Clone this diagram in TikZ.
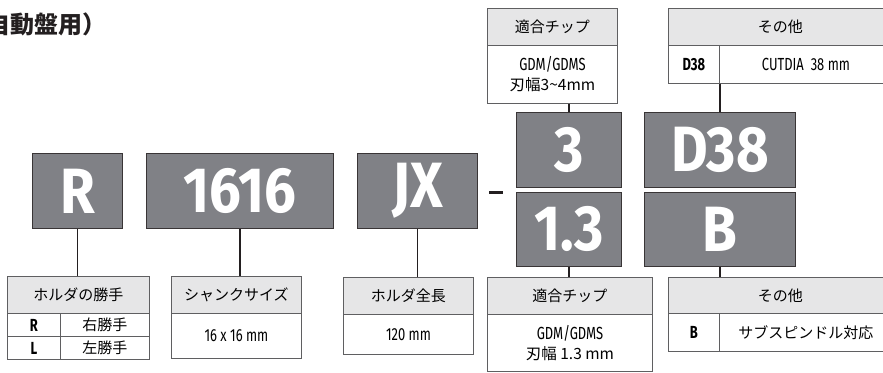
\documentclass[tikz,border=0pt]{standalone}
\usepackage{fontspec}
\newfontfamily\jpfont{Noto Sans CJK JP}
\newfontfamily\condfont[FakeStretch=0.74]{Fira Sans}
\newfontfamily\bigfont[FakeStretch=0.88]{Fira Sans}
\usetikzlibrary{positioning,calc}
\definecolor{codegray}{RGB}{128,129,134}
\definecolor{headgray}{RGB}{230,230,231}
\definecolor{framegray}{RGB}{95,95,97}
\definecolor{linkblack}{RGB}{35,31,32}

\tikzset{
  codebox/.style={draw=linkblack!90, fill=codegray, text=white, line width=0.9pt,
    inner sep=0pt, anchor=north west,
    font=\bigfont\bfseries\fontsize{64}{64}\selectfont},
  headcell/.style={draw=framegray, fill=headgray, line width=0.9pt, inner sep=0pt,
    anchor=north west, minimum height=37pt,
    font=\jpfont\fontsize{15}{18}\selectfont},
  bodycell/.style={draw=framegray, fill=white, line width=0.9pt, inner sep=0pt,
    anchor=north west, align=center,
    font=\condfont\fontsize{17.5}{22}\selectfont},
  keycell/.style={bodycell, font=\condfont\bfseries\fontsize{17.5}{22}\selectfont},
  link/.style={draw=linkblack, line width=1.4pt}
}

\begin{document}
\begin{tikzpicture}[x=1pt,y=-1pt]
  \useasboundingbox (0,0) rectangle (883,372);
  % Title (cut at the left edge)
  \node[anchor=base west, inner sep=0pt, text=linkblack,
        font=\jpfont\bfseries\fontsize{24}{24}\selectfont] (title) at (-14,33) {自動盤用）};

  % Code boxes
  \node[codebox, minimum width=90pt,  minimum height=75pt] (hand)  at (32,153)  {R};
  \node[codebox, minimum width=187pt, minimum height=75pt] (size)  at (146,153) {1616};
  \node[codebox, minimum width=120pt, minimum height=75pt] (len)   at (357,153) {JX};
  \node[codebox, minimum width=105pt, minimum height=75pt] (chipa) at (516,112) {3};
  \node[codebox, minimum width=105pt, minimum height=74pt] (chipb) at (516,192) {1.3};
  \node[codebox, minimum width=151pt, minimum height=75pt] (opta)  at (644,112) {D38};
  \node[codebox, minimum width=151pt, minimum height=74pt] (optb)  at (644,192) {B};
  \fill[linkblack] (489,190.5) rectangle (503,193.5);

  % Table: hand
  \node[headcell, minimum width=142pt] (handhd) at (7,276) {ホルダの勝手};
  \node[keycell, minimum width=53pt, minimum height=23pt] (handk1) at (7,313)  {R};
  \node[bodycell, minimum width=89pt, minimum height=23pt, font=\jpfont\fontsize{15}{18}\selectfont] (handv1) at (60,313) {右勝手};
  \node[keycell, minimum width=53pt, minimum height=23pt] (handk2) at (7,336)  {L};
  \node[bodycell, minimum width=89pt, minimum height=23pt, font=\jpfont\fontsize{15}{18}\selectfont] (handv2) at (60,336) {左勝手};

  % Table: shank size
  \node[headcell, minimum width=130pt] (sizehd) at (171,276) {シャンクサイズ};
  \node[bodycell, minimum width=130pt, minimum height=45pt] (sizebd) at (171,313) {16 x 16 mm};

  % Table: length
  \node[headcell, minimum width=130pt] (lenhd) at (343,277) {ホルダ全長};
  \node[bodycell, minimum width=130pt, minimum height=40pt] (lenbd) at (343,314) {120 mm};

  % Table: chip (bottom)
  \node[headcell, minimum width=165pt] (chipbhd) at (487,277) {適合チップ};
  \node[bodycell, minimum width=165pt, minimum height=57pt] (chipbbd) at (487,314)
    {GDM/GDMS\\[-2pt]{\jpfont\fontsize{15.5}{18}\selectfont 刃幅 1.3 mm}};

  % Table: other (bottom)
  \node[headcell, minimum width=224pt, minimum height=36pt] (optbhd) at (668,277) {その他};
  \node[keycell, minimum width=51pt, minimum height=38pt] (optbk) at (668,313) {B};
  \node[bodycell, minimum width=173pt, minimum height=38pt, font=\jpfont\fontsize{15}{18}\selectfont] (optbv) at (719,313) {サブスピンドル対応};

  % Table: chip (top)
  \node[headcell, minimum width=130pt] (chipahd) at (487,8) {適合チップ};
  \node[bodycell, minimum width=130pt, minimum height=58pt] (chipabd) at (487,45)
    {GDM/GDMS\\[-2pt]{\jpfont\fontsize{15.5}{18}\selectfont 刃幅3\textasciitilde4mm}};

  % Table: other (top)
  \node[headcell, minimum width=224pt] (optahd) at (668,8) {その他};
  \node[keycell, minimum width=51pt, minimum height=38pt] (optak) at (668,45) {D38};
  \node[bodycell, minimum width=173pt, minimum height=38pt] (optav) at (719,45) {CUTDIA\ \ 38 mm};

  % Connectors
  \foreach \a/\b in {hand/handhd,size/sizehd,len/lenhd,chipb/chipbhd,optb/optbhd}
    \draw[link] (\a.south) -- (\a.south |- \b.north);
  \foreach \a/\b in {chipa/chipabd,opta/optak}
    \draw[link] (\a.north) -- (\a.north |- \b.south);
\end{tikzpicture}
\end{document}
